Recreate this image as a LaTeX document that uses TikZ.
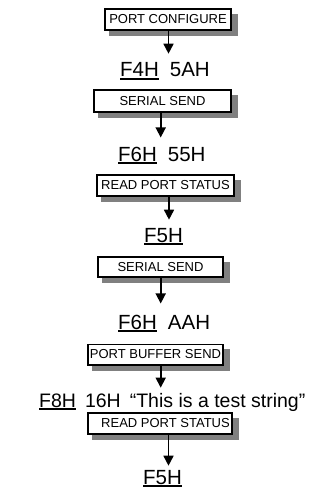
\documentclass[tikz,border=0pt]{standalone}
\usepackage{fontspec}
\setmainfont{Liberation Sans}
\usetikzlibrary{arrows.meta,backgrounds}
\newcommand\ulw[1]{\setbox0\hbox{#1}\rlap{\rule[-2.6pt]{\wd0}{1.8pt}}\box0}
\tikzset{
  box/.style={draw, line width=1.6pt, fill=white, inner sep=0pt,
    font=\fontsize{13}{13}\selectfont},
  shadowfill/.style={fill=black!50},
  lbl/.style={inner sep=0pt, font=\fontsize{20.5}{20.5}\selectfont, anchor=base west},
  arr/.style={line width=1.6pt, -{Triangle[length=10pt,width=10pt]}},
}
\begin{document}
\begin{tikzpicture}[x=1pt,y=-1pt]
\useasboundingbox (0,0) rectangle (320,495);
% boxes
\node[box, minimum width=126.4pt, minimum height=21.4pt] (b1) at (168,19.5) {PORT CONFIGURE};
\node[box, minimum width=137.4pt, minimum height=22.4pt] (b2) at (162.5,101) {SERIAL SEND};
\node[box, minimum width=137.4pt, minimum height=21.4pt] (b3) at (165.5,185.5) {READ PORT STATUS};
\node[box, minimum width=125.4pt, minimum height=20.4pt] (b4) at (160.5,267) {SERIAL SEND};
\node[box, minimum width=135.4pt, minimum height=20.4pt] (b5) at (155.5,354.5) {PORT BUFFER SEND};
\node[box, minimum width=144.4pt, minimum height=21.4pt] (b6) at (160,423.5) {\hspace*{11pt}READ PORT STATUS};
% shadows
\begin{scope}[on background layer]
\foreach \b in {b1,b2,b3,b4,b5,b6}
  \fill[shadowfill] ([shift={(5pt,-5pt)}]\b.south west) rectangle ([shift={(5.8pt,-5.8pt)}]\b.north east);
\end{scope}
% labels
\node[lbl] (t1) at (120,77) {\ulw{F4H}\hspace{11pt}5AH};
\node[lbl] (t2) at (118,161) {\ulw{F6H}\hspace{11pt}55H};
\node[lbl] (t3) at (144,242) {\ulw{F5H}};
\node[lbl] (t4) at (118,329) {\ulw{F6H}\hspace{11pt}AAH};
\node[lbl, font=\fontsize{19.5}{19.5}\selectfont] (t5) at (39,407) {\ulw{F8H}\hspace{9pt}16H\hspace{9pt}“This is a test string”};
\node[lbl] (t6) at (143,484) {\ulw{F5H}};
% arrows
\draw[arr, shorten >=9pt] ([xshift=0.5pt]b1.south) -- ([xshift=0.5pt]b1.south |- t1.north);
\draw[arr, shorten >=9pt] ([xshift=-1.8pt]b2.south) -- ([xshift=-1.8pt]b2.south |- t2.north);
\draw[arr, shorten >=8pt] ([xshift=3.5pt]b3.south) -- ([xshift=3.5pt]b3.south |- t3.north);
\draw[arr, shorten >=11pt] ([xshift=0.2pt]b4.south) -- ([xshift=0.2pt]b4.south |- t4.north);
\draw[arr, shorten >=5pt] ([xshift=5.2pt]b5.south) -- ([xshift=5.2pt]b5.south |- t5.north);
\draw[arr, shorten >=4pt] ([xshift=8.5pt]b6.south) -- ([xshift=8.5pt]b6.south |- t6.north);
\end{tikzpicture}
\end{document}
